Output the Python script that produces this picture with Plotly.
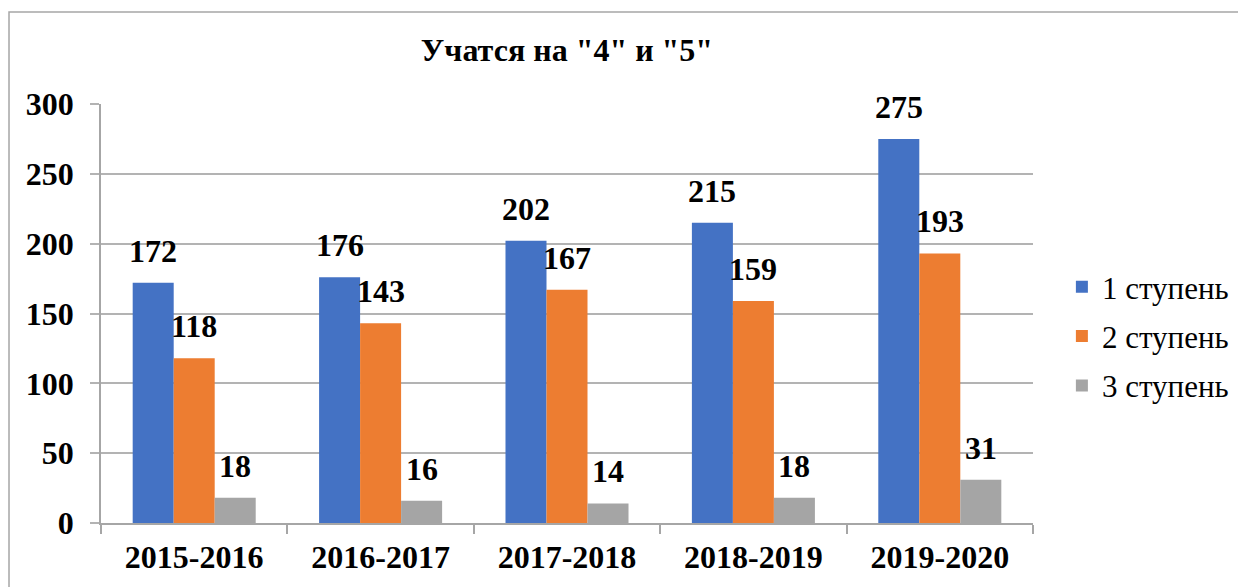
import plotly.graph_objects as go

years = ['2015-2016', '2016-2017', '2017-2018', '2018-2019', '2019-2020']
stage1 = [172, 176, 202, 215, 275]
stage2 = [118, 143, 167, 159, 193]
stage3 = [18, 16, 14, 18, 31]
names = ['1 ступень', '2 ступень', '3 ступень']
colors = ['#4472C4', '#ED7D31', '#A5A5A5']

font = 'Liberation Serif'

fig = go.Figure()
for name, vals, col in zip(names, [stage1, stage2, stage3], colors):
    fig.add_trace(go.Bar(x=years, y=vals, name=name, marker_color=col,
                         marker_line_width=0, legendgroup=name))

# data labels sit a bit above each bar, like Excel's "outside end"
shifts = [-41, 0, 41]
for vals, dx in zip([stage1, stage2, stage3], shifts):
    for yr, v in zip(years, vals):
        fig.add_annotation(x=yr, y=v, text=f'<b>{v}</b>', showarrow=False,
                           xshift=dx, yshift=12, yanchor='bottom',
                           font=dict(family=font, size=32, color='black'))

# chart border
fig.add_shape(type='rect', xref='paper', yref='paper',
              x0=-0.0987, x1=1.2253, y0=-0.17, y1=1.2196,
              line=dict(color='#a6a6a6', width=1.5), layer='below')

fig.update_layout(
    width=1246, height=587,
    margin=dict(l=93, r=221, t=96, b=72),
    paper_bgcolor='white', plot_bgcolor='white',
    barmode='group', bargap=0.34, bargroupgap=0,
    title=dict(text='<b>Учатся на "4" и "5"</b>', x=0.5, xref='paper',
               y=1 - 42 / 587, yanchor='middle',
               font=dict(family=font, size=32, color='black')),
    legend=dict(x=1.031, y=0.446, xanchor='left', yanchor='middle',
                font=dict(family=font, size=31, color='black'),
                traceorder='grouped', tracegroupgap=6, itemsizing='constant'),
    showlegend=True,
)
fig.update_xaxes(showline=True, linecolor='#a6a6a6', linewidth=1.5,
                 ticks='outside', tickson='boundaries', ticklen=9,
                 tickcolor='#a6a6a6', tickwidth=1.5, ticklabelstandoff=5,
                 tickfont=dict(family=font, size=32, color='black'),
                 tickprefix='<b>', ticksuffix='</b>')
fig.update_yaxes(range=[0, 300], dtick=50, showgrid=True,
                 gridcolor='#b3b3b3', gridwidth=1.5,
                 showline=True, linecolor='#a6a6a6', linewidth=1.5,
                 ticks='outside', ticklen=9, tickcolor='#b3b3b3', tickwidth=1.5,
                 zeroline=False, ticklabelstandoff=10,
                 tickfont=dict(family=font, size=32, color='black'),
                 tickprefix='<b>', ticksuffix='</b>')

fig.write_html('out.html')
